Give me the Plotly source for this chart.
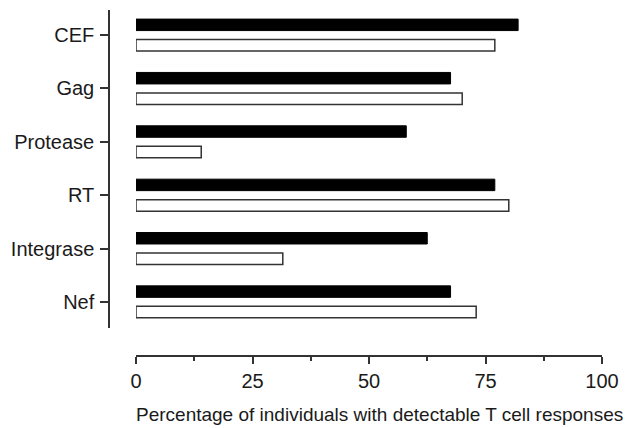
import plotly.graph_objects as go

categories = ["CEF", "Gag", "Protease", "RT", "Integrase", "Nef"]
black_values = [82, 67.5, 58, 77, 62.5, 67.5]
white_values = [77, 70, 14, 80, 31.5, 73]
x_ticks = [0, 25, 50, 75, 100]
x_title = "Percentage of individuals with detectable T cell responses"

fig = go.Figure()
fig.add_trace(go.Bar(y=categories, x=black_values, orientation="h",
                     marker=dict(color="black", line=dict(color="black", width=1)),
                     showlegend=False))
fig.add_trace(go.Bar(y=categories, x=white_values, orientation="h",
                     marker=dict(color="white", line=dict(color="#333333", width=1.5)),
                     showlegend=False))

W, H = 628, 428
ml, mr, mt, mb = 100, 26, 10, 72
pw = W - ml - mr
ph = H - mt - mb

fig.update_layout(
    width=W, height=H,
    margin=dict(l=ml, r=mr, t=mt, b=mb, autoexpand=False),
    paper_bgcolor="white", plot_bgcolor="white",
    barmode="group", bargap=0.232, bargroupgap=0.44,
    font=dict(family="Liberation Sans, Arial, sans-serif", size=20, color="#1a1a1a"),
    xaxis=dict(
        domain=[36 / pw, 1], range=[0, 100], anchor="free", position=0,
        tickvals=x_ticks, ticks="outside", ticklen=7, tickwidth=1.5, tickcolor="#333333",
        showline=True, linecolor="#333333", linewidth=1.5, showgrid=False, zeroline=False,
        minor=dict(dtick=12.5, ticks="outside", ticklen=4, tickwidth=1.5, tickcolor="#333333", showgrid=False),
        tick0=0, automargin=False, tickfont=dict(size=20),
    ),
    yaxis=dict(
        domain=[(356 - 328) / ph, 1], range=[5.49, -0.47], anchor="free", position=9 / pw,
        ticks="outside", ticklen=8, tickwidth=1.5, tickcolor="#333333",
        showline=True, linecolor="#333333", linewidth=1.5, showgrid=False, zeroline=False,
        ticklabelstandoff=2, automargin=False, tickfont=dict(size=20),
    ),
    annotations=[dict(text=x_title, xref="paper", yref="paper",
                      x=(379 - ml) / pw, y=-(415 - (H - mb)) / ph,
                      xanchor="center", yanchor="middle", showarrow=False,
                      font=dict(size=19, color="#1a1a1a"))],
)

fig.write_html("out.html", config={"displayModeBar": False},
               post_script="document.body.style.margin='0';")
